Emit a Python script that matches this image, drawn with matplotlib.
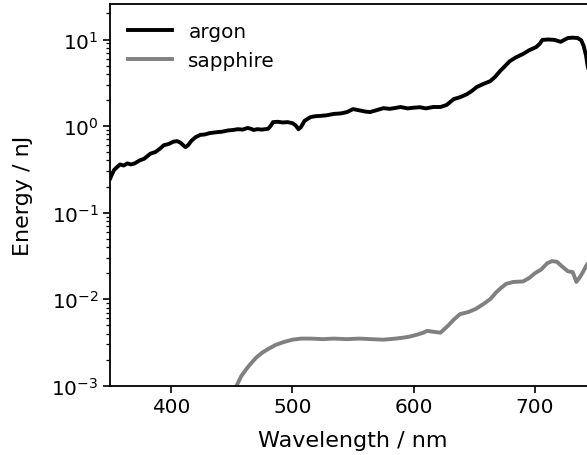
import numpy as np
import matplotlib
matplotlib.use("Agg")
import matplotlib.pyplot as plt

# argon spectrum (nm, nJ)
argon_wl = [350, 351, 353, 355, 358, 361, 364, 367, 370, 374, 378, 383, 387, 391, 394, 398, 402, 405, 408,
            410, 412, 414, 417, 420, 424, 428, 432, 438, 442, 447, 451, 455, 459, 463, 466, 468, 471, 475, 480,
            482, 484, 488, 492, 496, 500, 502.6, 505, 507, 510, 515, 519, 523, 528, 534, 540, 545, 550, 555,
            560, 564, 569, 575, 580, 585, 589, 595, 600, 605, 610, 616, 622, 627, 633, 638, 644, 648, 652, 657,
            663, 667, 671, 675, 679, 684, 690, 695, 701, 704, 706, 711, 716, 719, 721, 724, 727, 731, 735, 738,
            740, 742, 743, 745, 748, 750]
argon_e = [0.25, 0.27, 0.31, 0.33, 0.36, 0.35, 0.37, 0.36, 0.37, 0.40, 0.42, 0.48, 0.50, 0.55, 0.60, 0.62, 0.66,
           0.67, 0.64, 0.60, 0.57, 0.60, 0.68, 0.74, 0.79, 0.80, 0.83, 0.85, 0.86, 0.89, 0.90, 0.92, 0.91, 0.95,
           0.93, 0.90, 0.92, 0.91, 0.93, 1.00, 1.11, 1.12, 1.10, 1.11, 1.08, 1.02, 0.92, 0.97, 1.15, 1.27, 1.30,
           1.31, 1.33, 1.38, 1.40, 1.45, 1.57, 1.52, 1.47, 1.45, 1.52, 1.61, 1.58, 1.62, 1.66, 1.60, 1.63, 1.65,
           1.60, 1.66, 1.66, 1.75, 2.05, 2.15, 2.34, 2.55, 2.83, 3.05, 3.3, 3.7, 4.3, 4.9, 5.6, 6.2, 6.8, 7.5,
           8.2, 9.0, 9.9, 10.0, 9.9, 9.6, 9.4, 9.9, 10.4, 10.5, 10.4, 9.8, 8.4, 6.5, 5.2, 3.8, 2.6, 2.0]

# sapphire spectrum (nm, nJ)
sapph_wl = [454, 458, 462, 465, 470, 475, 480, 486, 493, 500, 507, 515, 525, 534, 545, 555, 565, 575, 585,
            592, 597, 603, 608, 611, 616, 622, 628, 633, 638, 645, 651, 657, 663, 668, 672, 676, 682, 690, 695,
            700, 705, 710, 714, 718, 722, 727, 731, 734, 738, 743, 748, 750]
sapph_e = [1.0e-3, 1.3e-3, 1.55e-3, 1.75e-3, 2.1e-3, 2.4e-3, 2.65e-3, 2.95e-3, 3.2e-3, 3.4e-3, 3.5e-3, 3.5e-3,
           3.45e-3, 3.5e-3, 3.45e-3, 3.5e-3, 3.45e-3, 3.4e-3, 3.5e-3, 3.6e-3, 3.7e-3, 3.9e-3, 4.1e-3, 4.3e-3,
           4.2e-3, 4.1e-3, 4.9e-3, 5.8e-3, 6.7e-3, 7.1e-3, 7.7e-3, 8.7e-3, 1.0e-2, 1.2e-2, 1.35e-2, 1.5e-2,
           1.58e-2, 1.6e-2, 1.75e-2, 2.0e-2, 2.2e-2, 2.6e-2, 2.75e-2, 2.7e-2, 2.4e-2, 2.1e-2, 2.05e-2, 1.58e-2,
           1.9e-2, 2.55e-2, 3.0e-2, 3.2e-2]

xticks = [400, 500, 600, 700]

fig = plt.figure(figsize=(5.87, 4.56), dpi=100)
ax = fig.add_axes([0.188, 0.152, 0.827, 0.837])
ax.plot(argon_wl, argon_e, color="black", lw=2.8, label="argon")
ax.plot(sapph_wl, sapph_e, color="gray", lw=2.8, label="sapphire")
ax.set_yscale("log")
ax.set_xlim(350, 750)
ax.set_ylim(1e-3, 10**1.41)
ax.set_xticks(xticks)
ax.tick_params(labelsize=14.4, width=1.2)
ax.tick_params(which="major", length=5)
ax.tick_params(which="minor", length=3, width=0.9)
for s in ax.spines.values():
    s.set_linewidth(1.3)
ax.set_xlabel("Wavelength / nm", fontsize=16, labelpad=10)
ax.set_ylabel("Energy / nJ", fontsize=16, labelpad=13)
ax.legend(loc="upper left", frameon=False, fontsize=14.4, handlelength=2.2)
fig.savefig("out.png", dpi=100)
